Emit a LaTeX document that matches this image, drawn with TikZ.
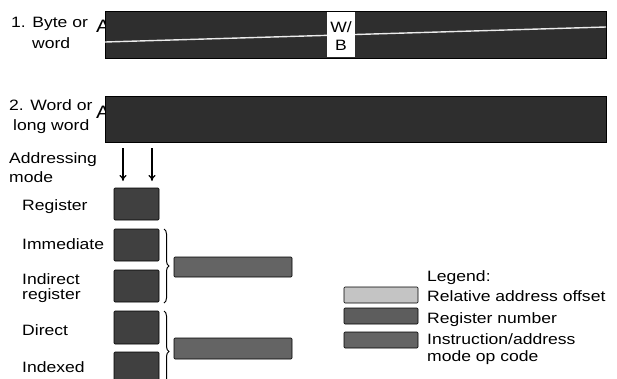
\documentclass[tikz,border=0pt]{standalone}
\usepackage{fontspec}
\setmainfont[FakeStretch=1.17]{Liberation Sans}
\usetikzlibrary{arrows.meta,decorations.pathreplacing}
\definecolor{opdark}{HTML}{2E2E2E}
\definecolor{regmid}{HTML}{404040}
\definecolor{widemid}{HTML}{646464}
\definecolor{offlight}{HTML}{C4C4C4}
\tikzset{
  lbl/.style={font=\fontsize{15}{21}\selectfont, inner sep=0pt},
  biglbl/.style={font=\fontsize{18}{21}\selectfont, inner sep=0pt},
  bar/.style={fill=opdark, draw=black, line width=0.6pt},
  regbox/.style={fill=regmid, draw=black, line width=0.6pt, rounded corners=1pt},
  widebox/.style={fill=widemid, draw=black, line width=0.6pt, rounded corners=1pt},
  arr/.style={-{To[length=6pt,width=7pt]}, line width=1.1pt},
  brc/.style={decorate, decoration={brace, amplitude=5pt, raise=0pt}, line width=1pt},
}
\begin{document}
\begin{tikzpicture}[x=1pt,y=-1pt]
\useasboundingbox (0,0) rectangle (617,378);
\clip (0,0) rectangle (617,378);
% format 1
\node[lbl, anchor=base west] (l1a) at (11,27) {1. Byte or};
\node[lbl, anchor=base west] (l1b) at (32,48) {word};
\node[biglbl, anchor=base west] (a1) at (96,32) {A};
\draw[bar] (105,11) rectangle (606,58);
\coordinate (w1) at (105,42);
\coordinate (w2) at (606,27);
\draw[white!85!gray, line width=1.4pt] (w1) -- (w2);
\node[fill=white, minimum width=28pt, minimum height=45pt, anchor=north west, inner sep=0pt] (wb) at (327,12) {};
\node[lbl, anchor=base] (wbt) at (341,32) {W/};
\node[lbl, anchor=base] (wbb) at (341,50) {B};
% format 2
\node[lbl, anchor=base west] (l2a) at (9,110) {2. Word or};
\node[lbl, anchor=base west] (l2b) at (13,130) {long word};
\node[biglbl, anchor=base west] (a2) at (96,118) {A};
\draw[bar] (105,96) rectangle (606,142);
\node[lbl, anchor=base west] (am1) at (9,163) {Addressing};
\node[lbl, anchor=base west] (am2) at (9,182) {mode};
\coordinate (ar1s) at (123,148);
\coordinate (ar1e) at (123,181);
\coordinate (ar2s) at (152,148);
\coordinate (ar2e) at (152,181);
\draw[arr] (ar1s) -- (ar1e);
\draw[arr] (ar2s) -- (ar2e);
% addressing modes
\node[lbl, anchor=base west] (tReg) at (22,210) {Register};
\node[lbl, anchor=base west] (tImm) at (22,249) {Immediate};
\node[lbl, anchor=base west] (tInd) at (22,284) {Indirect};
\node[lbl, anchor=base west] (tInr) at (22,299) {register};
\node[lbl, anchor=base west] (tDir) at (22,335) {Direct};
\node[lbl, anchor=base west] (tIdx) at (22,372) {Indexed};
\draw[regbox] (114,188) rectangle (159,220);
\draw[regbox] (114,229) rectangle (159,261);
\draw[regbox] (114,270) rectangle (159,302);
\draw[regbox] (114,311) rectangle (159,344);
\draw[regbox] (114,352) rectangle (159,392);
\coordinate (b1t) at (164,229);
\coordinate (b1b) at (164,303);
\coordinate (b2t) at (164,311);
\coordinate (b2b) at (164,392);
\draw[brc] (b1t) -- (b1b);
\draw[brc] (b2t) -- (b2b);
\draw[widebox] (174,257) rectangle (292,277);
\draw[widebox] (174,338) rectangle (292,359);
% legend
\node[lbl, anchor=base west] (lg) at (427,281) {Legend:};
\draw[fill=offlight, draw=black, line width=0.6pt, rounded corners=1pt] (344,287) rectangle (418,303);
\draw[fill=regmid!85!white, draw=black, line width=0.6pt, rounded corners=1pt] (344,308) rectangle (418,324);
\draw[fill=widemid, draw=black, line width=0.6pt, rounded corners=1pt] (344,332) rectangle (418,348);
\node[lbl, anchor=base west] (lr) at (427,301) {Relative address offset};
\node[lbl, anchor=base west] (ln) at (427,323) {Register number};
\node[lbl, anchor=base west] (li) at (427,344) {Instruction/address};
\node[lbl, anchor=base west] (li2) at (427,361) {mode op code};
\end{tikzpicture}
\end{document}
